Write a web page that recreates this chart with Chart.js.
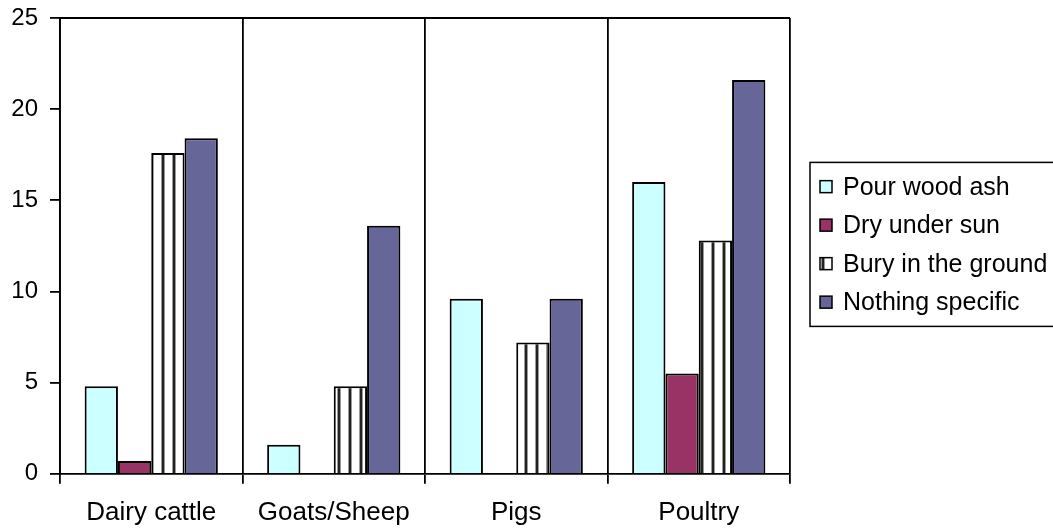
<!DOCTYPE html>
<html>
<head>
<meta charset="utf-8">
<script src="https://cdn.jsdelivr.net/npm/chart.js@4"></script>
<style>
  html, body { margin: 0; padding: 0; background: #fff; }
  #wrap { width: 1053px; height: 529px; }
</style>
</head>
<body>
<div id="wrap"><canvas id="myChart"></canvas></div>
<script>
'use strict'

// data
const categories = ['Dairy cattle', 'Goats/Sheep', 'Pigs', 'Poultry']
const pourWoodAsh = [4.8, 1.6, 9.6, 16.0]
const dryUnderSun = [0.7, 0, 0, 5.5]
const buryInGround = [17.6, 4.8, 7.2, 12.8]
const nothingSpecific = [18.4, 13.6, 9.6, 21.6]
const yTicks = [0, 5, 10, 15, 20, 25]

const FONT = '"Liberation Sans", Arial, sans-serif'

// vertical stripes for "Bury in the ground"
function stripes() {
  const c = document.createElement('canvas')
  c.width = 11
  c.height = 4
  const g = c.getContext('2d')
  g.fillStyle = '#ffffff'
  g.fillRect(0, 0, 11, 4)
  g.fillStyle = '#999999'
  g.fillRect(7, 0, 1, 4)
  g.fillRect(10, 0, 1, 4)
  g.fillStyle = '#222222'
  g.fillRect(8, 0, 2, 4)
  return g.createPattern(c, 'repeat')
}

// top border of the plot + a boxed legend on the right
const frame = {
  id: 'frame',
  afterDraw(chart) {
    const ctx = chart.ctx
    const a = chart.chartArea
    ctx.save()
    ctx.strokeStyle = '#000'
    ctx.lineWidth = 1.8
    ctx.beginPath()
    ctx.moveTo(a.left, a.top)
    ctx.lineTo(a.right, a.top)
    ctx.stroke()

    const sets = chart.data.datasets
    const rowH = 38.5
    const mid = (a.top + a.bottom) / 2 - 1.5
    const boxX = a.right + 20
    const boxTop = mid - rowH * sets.length / 2 - 5
    ctx.lineWidth = 1.5
    ctx.strokeRect(boxX, boxTop, chart.width - boxX + 10, rowH * sets.length + 10)

    ctx.font = '25px ' + FONT
    ctx.textBaseline = 'middle'
    ctx.textAlign = 'left'
    sets.forEach((ds, i) => {
      const cy = mid + (i - (sets.length - 1) / 2) * rowH
      ctx.fillStyle = ds.backgroundColor
      ctx.fillRect(boxX + 10, cy - 6, 12, 12)
      ctx.lineWidth = 1.5
      ctx.strokeStyle = '#000'
      ctx.strokeRect(boxX + 10, cy - 6, 12, 12)
      ctx.fillStyle = '#000'
      ctx.fillText(ds.label, boxX + 33, cy + 1)
    })
    ctx.restore()
  }
}

const ctx = document.getElementById('myChart')

const myChart = new Chart(ctx, {
  type: 'bar',
  data: {
    labels: categories,
    datasets: [{
      label: 'Pour wood ash',
      data: pourWoodAsh,
      backgroundColor: '#ccffff',
      borderColor: '#000',
      borderWidth: 2
    }, {
      label: 'Dry under sun',
      data: dryUnderSun,
      backgroundColor: '#993366',
      borderColor: '#000',
      borderWidth: 2
    }, {
      label: 'Bury in the ground',
      data: buryInGround,
      backgroundColor: stripes(),
      borderColor: '#000',
      borderWidth: 2
    }, {
      label: 'Nothing specific',
      data: nothingSpecific,
      backgroundColor: '#666699',
      borderColor: '#000',
      borderWidth: 2
    }]
  },
  options: {
    responsive: true,
    maintainAspectRatio: false,
    animation: false,
    layout: {
      padding: { top: 0, left: 0, bottom: -12, right: 263 }
    },
    datasets: {
      bar: {
        categoryPercentage: 0.73,
        barPercentage: 1
      }
    },
    plugins: {
      legend: { display: false },
      tooltip: { enabled: false }
    },
    scales: {
      x: {
        offset: true,
        grid: {
          offset: true,
          color: '#000',
          lineWidth: 1.8,
          tickLength: 10
        },
        border: { color: '#000', width: 1.8 },
        ticks: {
          color: '#000',
          font: { family: FONT, size: 26 },
          padding: 13,
          maxRotation: 0
        }
      },
      y: {
        min: 0,
        max: 25,
        afterBuildTicks: (axis) => {
          axis.ticks = yTicks.map(v => ({ value: v }))
        },
        afterFit: (axis) => {
          axis.width = 60
          axis.paddingTop = 18
        },
        grid: {
          drawOnChartArea: false,
          color: '#000',
          lineWidth: 1.8,
          tickLength: 10
        },
        border: { color: '#000', width: 1.8 },
        ticks: {
          color: '#000',
          font: { family: FONT, size: 24 },
          padding: 12
        }
      }
    }
  },
  plugins: [frame]
})
</script>
</body>
</html>
